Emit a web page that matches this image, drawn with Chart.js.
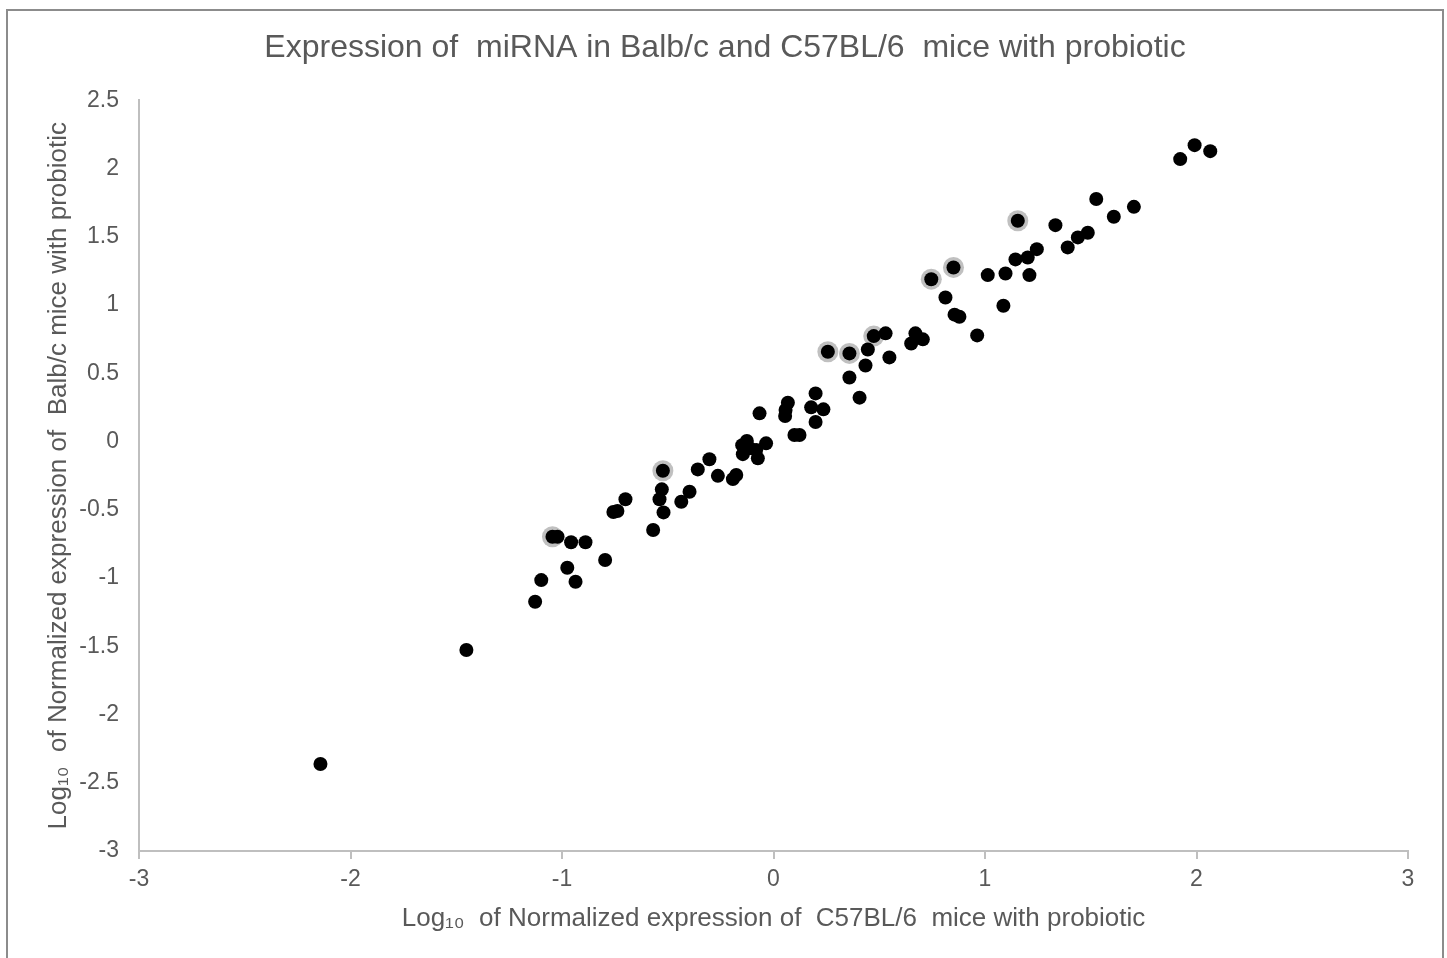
<!DOCTYPE html>
<html>
<head>
<meta charset="utf-8">
<script src="https://cdn.jsdelivr.net/npm/chart.js@4/dist/chart.umd.min.js"></script>
<style>
html,body{margin:0;padding:0;background:#fff;}
#wrap{width:1447px;height:958px;position:relative;}
</style>
</head>
<body>
<div id="wrap"><canvas id="c" width="1447" height="958"></canvas></div>
<script>
// Log10 normalized expression, C57BL/6 (x) vs Balb/c (y)
const xVals = [-2.142,-1.452,-1.127,-1.098,-1.045,-1.021,-0.957,-0.889,-0.975,-0.936,-0.796,-0.757,-0.738,-0.700,-0.569,-0.523,-0.528,-0.539,-0.520,-0.436,-0.397,-0.358,-0.303,-0.263,-0.192,-0.176,-0.126,-0.148,-0.145,-0.082,-0.074,-0.035,-0.113,-0.066,0.068,0.057,0.055,0.099,0.123,0.199,0.178,0.236,0.199,0.359,0.407,0.257,0.359,0.435,0.446,0.474,0.530,0.548,0.671,0.651,0.706,0.746,0.851,0.813,0.856,0.879,0.963,1.013,1.087,1.097,1.144,1.155,1.202,1.210,1.245,1.333,1.391,1.439,1.486,1.526,1.609,1.704,1.923,1.991,2.065];
const yVals = [-2.363,-1.527,-1.174,-1.015,-0.697,-0.697,-0.738,-0.738,-0.925,-1.027,-0.868,-0.516,-0.509,-0.423,-0.648,-0.214,-0.350,-0.423,-0.519,-0.441,-0.368,-0.204,-0.130,-0.251,-0.275,-0.245,0.004,-0.026,-0.092,-0.062,-0.123,-0.013,-0.048,0.207,0.284,0.231,0.187,0.048,0.048,0.353,0.251,0.236,0.143,0.470,0.322,0.658,0.646,0.558,0.675,0.773,0.793,0.617,0.793,0.719,0.749,1.190,1.276,1.056,0.930,0.915,0.778,1.220,0.995,1.232,1.335,1.618,1.349,1.220,1.410,1.586,1.423,1.496,1.530,1.777,1.647,1.720,2.070,2.172,2.128];
// highlighted (haloed) points
const haloX = [-1.045,-0.523,0.257,0.359,0.474,0.746,0.851,1.155];
const haloY = [-0.697,-0.214,0.658,0.646,0.773,1.190,1.276,1.618];

const xTickVals = [-3,-2,-1,0,1,2,3];
const yTickVals = [-3,-2.5,-2,-1.5,-1,-0.5,0,0.5,1,1.5,2,2.5];

const chartTitle = 'Expression of  miRNA in Balb/c and C57BL/6  mice with probiotic';
const xTitle = 'Log\u2081\u2080  of Normalized expression of  C57BL/6  mice with probiotic';
const yTitle = 'Log\u2081\u2080  of Normalized expression of  Balb/c mice with probiotic';

const mainPts = xVals.map((x,i)=>({x:x,y:yVals[i]}));
const haloPts = haloX.map((x,i)=>({x:x,y:haloY[i]}));

const FONT = "'Liberation Sans', Arial, Helvetica, sans-serif";
const TXT = '#595959';
const AX = '#bfbfbf';

const borderPlugin = {
  id:'outerBorder',
  beforeDraw(chart){
    const ctx = chart.ctx;
    ctx.save();
    ctx.fillStyle='#fff';
    ctx.fillRect(0,0,chart.width,chart.height);
    ctx.strokeStyle='#8c8c8c';
    ctx.lineWidth=2;
    ctx.strokeRect(7,10,1436,960);
    ctx.restore();
  }
};

new Chart(document.getElementById('c'), {
  type:'scatter',
  data:{
    datasets:[
      {label:'miRNA', data:mainPts, backgroundColor:'#000', borderWidth:0, pointRadius:7, pointHoverRadius:7, order:0},
      {label:'highlight', data:haloPts, backgroundColor:'rgba(150,150,150,0.6)', borderWidth:0, pointRadius:10.5, pointHoverRadius:10.5, order:1}
    ]
  },
  options:{
    responsive:false,
    animation:false,
    devicePixelRatio:1,
    layout:{padding:{left:42,right:39,top:0,bottom:0}},
    plugins:{
      legend:{display:false},
      tooltip:{enabled:false},
      title:{display:true, text:chartTitle, color:TXT, font:{family:FONT,size:32,weight:'normal'}, padding:{top:29,bottom:33}}
    },
    scales:{
      x:{
        type:'linear', min:-3, max:3,
        afterBuildTicks(s){ s.ticks = xTickVals.map(v=>({value:v})); },
        afterFit(s){ s.height = 107; },
        ticks:{color:TXT, font:{family:FONT,size:23}, padding:7, callback:v=>String(v), maxRotation:0},
        grid:{display:true, drawOnChartArea:false, drawTicks:true, tickLength:8, color:AX, lineWidth:2},
        border:{display:true, color:AX, width:2},
        title:{display:true, text:xTitle, color:TXT, font:{family:FONT,size:26}, padding:{top:0,bottom:24}}
      },
      y:{
        type:'linear', min:-3, max:2.5,
        afterBuildTicks(s){ s.ticks = yTickVals.map(v=>({value:v})); },
        afterFit(s){ s.width = 97; },
        ticks:{color:TXT, font:{family:FONT,size:23}, padding:20, callback:v=>String(v)},
        grid:{display:false, drawTicks:false},
        border:{display:true, color:AX, width:2},
        title:{display:true, text:yTitle, color:TXT, font:{family:FONT,size:26}, padding:{top:1,bottom:0}}
      }
    }
  },
  plugins:[borderPlugin]
});
</script>
</body>
</html>
